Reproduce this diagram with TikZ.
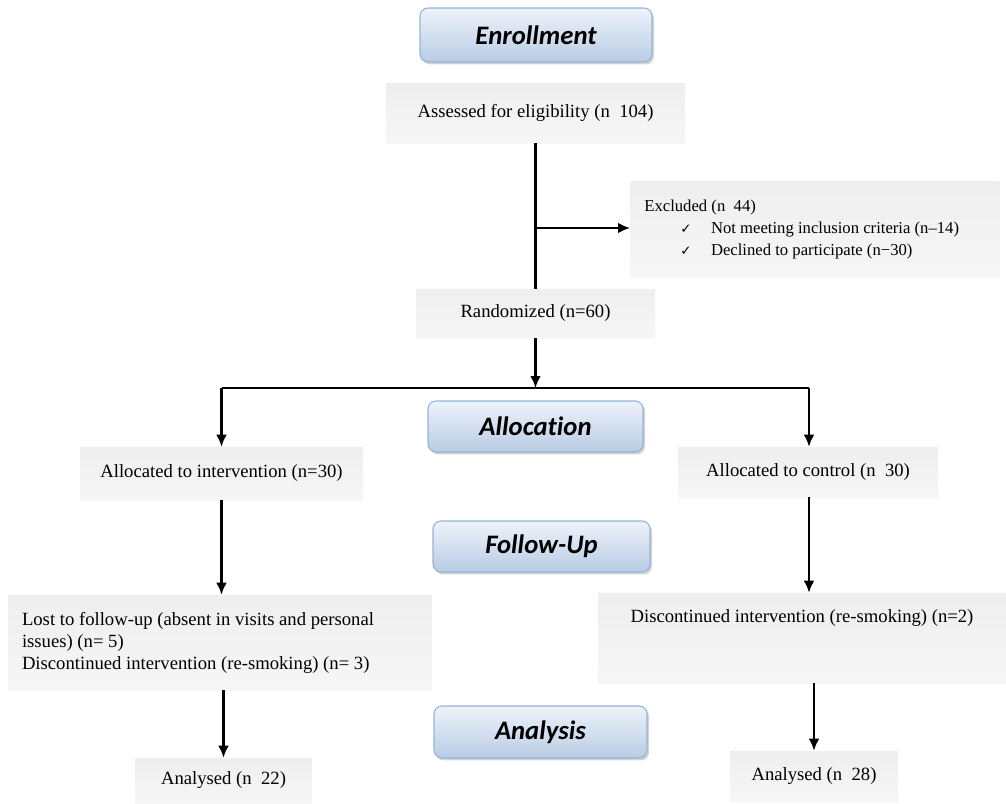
\documentclass[tikz,border=0pt]{standalone}
\usepackage{fontspec}
\setmainfont{Liberation Serif}
\newfontfamily\hdrfont[Ligatures=NoCommon]{Carlito}
\newfontfamily\symfont{DejaVu Sans}
\usepackage{xcolor}
\usetikzlibrary{arrows.meta,shadows}
\definecolor{hdrtop}{HTML}{EEF3FA}
\definecolor{hdrbot}{HTML}{B8CCE4}
\definecolor{hdrline}{HTML}{95B3D7}

\begin{document}
\begin{tikzpicture}[x=0.75pt,y=-0.75pt,
    box/.style={top color=gray!13, middle color=white, bottom color=gray!7,
        font=\fontsize{14}{16.5}\selectfont, inner sep=0pt},
    stage/.style={rounded corners=6pt, draw=hdrline, line width=0.8pt,
        top color=hdrtop, bottom color=hdrbot,
        drop shadow={shadow xshift=1.5pt, shadow yshift=-1.8pt, opacity=0.35},
        font=\hdrfont\bfseries\itshape\fontsize{20}{24}\selectfont, inner sep=0pt},
    link/.style={line width=1.6pt},
    arr/.style={link, -{Latex[length=9pt,width=8pt]}}]
    \useasboundingbox (0,0) rectangle (1006,803);

    % Stage headers
    \node[stage, minimum width=174pt, minimum height=40.5pt] (enrol) at (536,35) {Enrollment};
    \node[stage, minimum width=161.25pt, minimum height=38.25pt] (alloc) at (535.5,426.5) {Allocation};
    \node[stage, minimum width=162.75pt, minimum height=38.25pt] (follow) at (541.5,546.5) {Follow-Up};
    \node[stage, minimum width=159.75pt, minimum height=39pt] (analys) at (540.5,732) {Analysis};

    % Enrollment
    \node[box, minimum width=224.25pt, minimum height=45pt] (assess) at (535.5,113)
        {Assessed for eligibility (n\ \ 104)};
    \node[box, font=\fontsize{12.5}{16.5}\selectfont, minimum height=72pt, text width=256pt,
        inner xsep=10.5pt, align=flush left] (excl) at (815,229)
        {Excluded (n\ \ 44)\\
         \hspace*{27pt}\makebox[23pt][l]{\symfont\normalsize ✓}Not meeting inclusion criteria (n–14)\\
         \hspace*{27pt}\makebox[23pt][l]{\symfont\normalsize ✓}Declined to participate (n−30)};
    \node[box, minimum width=179.25pt, minimum height=36.75pt] (rand) at (535.5,313.5)
        {Randomized (n=60)};

    % Allocation
    \node[box, minimum width=212.25pt, minimum height=39.75pt] (allocI) at (221.5,473.5)
        {Allocated to intervention (n=30)};
    \node[box, minimum width=195pt, minimum height=37.5pt] (allocC) at (808,472)
        {Allocated to control (n\ \ 30)};

    % Follow-up
    \node[box, minimum height=71.25pt, text width=297pt, inner xsep=10.5pt, align=flush left] (lost) at (220,642.5)
        {Lost to follow-up (absent in visits and personal issues) (n= 5)\\
         Discontinued intervention (re-smoking) (n= 3)};
    \node[box, minimum width=306pt, minimum height=67.5pt, align=center] (disC) at (802,638)
        {Discontinued intervention (re-smoking) (n=2)\\ \mbox{}\\ \mbox{}};

    % Analysis
    \node[box, minimum width=132.75pt, minimum height=33.75pt] (anI) at (223.5,780.5) {Analysed (n\ \ 22)};
    \node[box, minimum width=126pt, minimum height=37.5pt] (anC) at (814,776) {Analysed (n\ \ 28)};

    % Connectors
    \coordinate (exbr) at (535.5,228);
    \coordinate (split) at (535.5,388);
    \coordinate (splitL) at (221.5,388);
    \coordinate (splitR) at (809,388);
    \draw[link] (assess.south) -- (rand.north);
    \draw[arr] (exbr) -- (exbr -| excl.west);
    \draw[arr] (rand.south) -- (split);
    \draw[link] (splitL) -- (splitR);
    \draw[arr] (splitL) -- (allocI.north);
    \draw[arr] (splitR) -- (splitR |- allocC.north);
    \draw[arr] (allocI.south) -- (allocI.south |- lost.north);
    \draw[arr] (splitR |- allocC.south) -- (splitR |- disC.north);
    \draw[arr] (anI.north |- lost.south) -- (anI.north);
    \draw[arr] (anC.north |- disC.south) -- (anC.north);
\end{tikzpicture}
\end{document}
